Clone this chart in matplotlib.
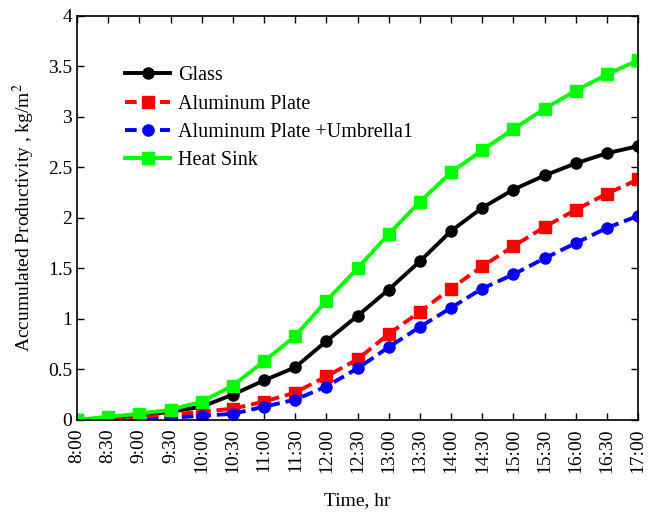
import matplotlib
matplotlib.use("Agg")
import matplotlib.pyplot as plt

plt.rcParams['font.family'] = ['Liberation Serif', 'DejaVu Serif']
plt.rcParams['mathtext.fontset'] = 'stix'

times = ["8:00", "8:30", "9:00", "9:30", "10:00", "10:30", "11:00", "11:30", "12:00",
         "12:30", "13:00", "13:30", "14:00", "14:30", "15:00", "15:30", "16:00", "16:30", "17:00"]
glass = [0.0, 0.02, 0.04, 0.08, 0.13, 0.25, 0.39, 0.52, 0.78, 1.03, 1.29, 1.57, 1.87, 2.10, 2.28, 2.42, 2.54, 2.64, 2.71]
aluminum = [0.0, -0.01, 0.02, 0.05, 0.08, 0.11, 0.18, 0.27, 0.43, 0.60, 0.85, 1.07, 1.30, 1.52, 1.72, 1.91, 2.08, 2.24, 2.38]
umbrella = [0.0, -0.01, -0.01, 0.02, 0.04, 0.06, 0.13, 0.20, 0.33, 0.51, 0.72, 0.92, 1.11, 1.30, 1.44, 1.60, 1.75, 1.90, 2.02]
heat_sink = [0.0, 0.03, 0.06, 0.10, 0.18, 0.34, 0.58, 0.83, 1.18, 1.50, 1.84, 2.16, 2.45, 2.67, 2.88, 3.08, 3.26, 3.42, 3.56]

fig = plt.figure(figsize=(6.64, 5.12), dpi=100)
ax = fig.add_axes([0.116, 0.18, 0.845, 0.789])
x = list(range(len(times)))
lw = 2.8
ms = 8
ax.plot(x, glass, color='black', lw=lw, marker='o', ms=ms, label='Glass')
ax.plot(x, aluminum, color='red', lw=lw, ls='--', dashes=(3, 1.5), marker='s', ms=ms, label='Aluminum Plate')
ax.plot(x, umbrella, color='blue', lw=lw, ls='--', dashes=(3, 1.5), marker='o', ms=ms, label='Aluminum Plate +Umbrella1')
ax.plot(x, heat_sink, color='#00ff00', lw=lw, marker='s', ms=ms, label='Heat Sink')

ax.set_xlim(0, len(times) - 1)
ax.set_ylim(0, 4)
ax.set_xticks(x)
ax.set_xticklabels(times, rotation=90, fontsize=14)
ax.set_yticks([0, 0.5, 1, 1.5, 2, 2.5, 3, 3.5, 4])
ax.set_yticklabels(['0', '0.5', '1', '1.5', '2', '2.5', '3', '3.5', '4'], fontsize=14)
ax.tick_params(direction='in', top=True, right=True, length=5, width=1)
ax.tick_params(axis='x', pad=6)
for s in ax.spines.values():
    s.set_linewidth(1.2)
ax.set_xlabel('Time, hr', fontsize=14, labelpad=14)
ax.set_ylabel(r'Accumulated Productivity , kg/m$^2$', fontsize=14, labelpad=8)

leg = ax.legend(loc='upper left', bbox_to_anchor=(0.072, 0.895), frameon=False, fontsize=14.5,
                handlelength=2.2, labelspacing=0.45, handletextpad=0.4, borderaxespad=0)

fig.savefig('out.png', dpi=100)
